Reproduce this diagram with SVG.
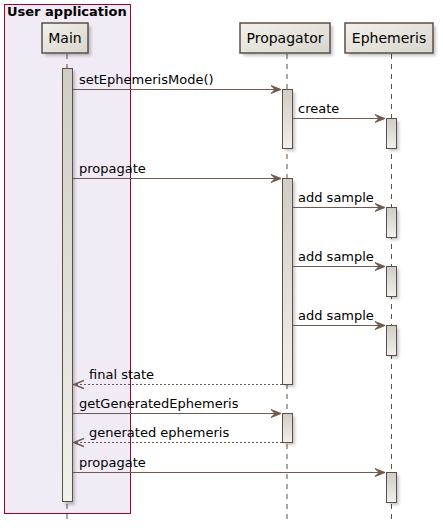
<svg xmlns="http://www.w3.org/2000/svg" width="443" height="530" viewBox="0 0 443 530">
<style>
text{font-family:"DejaVu Sans",sans-serif;font-size:13px;fill:#000}
.pt{font-size:14px}
.life{stroke:#5e4e46;stroke-width:1;stroke-dasharray:5 5;fill:none}
.part{fill:url(#pg);stroke:#5e4e46;stroke-width:1.5}
.act{fill:url(#ag);stroke:#5e4e46;stroke-width:1}
.msg{stroke:#6e5a50;stroke-width:1;fill:none}
.ret{stroke:#6e5a50;stroke-width:1;fill:none;stroke-dasharray:2 2}
.sh{fill:#000;opacity:0.22;filter:url(#blur)}
</style>
<defs>
<linearGradient id="pg" x1="0" y1="0" x2="1" y2="1"><stop offset="0" stop-color="#f3f1ec"/><stop offset="1" stop-color="#d9d5ce"/></linearGradient>
<linearGradient id="ag" x1="0" y1="0" x2="0" y2="1"><stop offset="0" stop-color="#d0ccc6"/><stop offset="1" stop-color="#f2f0eb"/></linearGradient>
<filter id="blur" x="-50%" y="-50%" width="200%" height="200%"><feGaussianBlur stdDeviation="1.5"/></filter>
<marker id="ah" viewBox="0 0 11 10" refX="10" refY="5" markerWidth="11" markerHeight="10" markerUnits="userSpaceOnUse" orient="auto"><polygon points="0,1 10,5 0,9 4,5" fill="#6e5a50" stroke="#6e5a50" stroke-width="1"/></marker>
<marker id="oh" viewBox="0 0 11 10" refX="10" refY="5" markerWidth="11" markerHeight="10" markerUnits="userSpaceOnUse" orient="auto"><polyline points="0,1 10,5 0,9" fill="none" stroke="#6e5a50" stroke-width="1.5"/></marker>
</defs>
<g id="user-application">
<rect x="4.5" y="4.5" width="126" height="509" fill="#f1ebf6" stroke="#a80036" stroke-width="1"/>
<text x="7" y="16" style="font-weight:bold;font-size:13px">User application</text>
</g>
<g id="lifelines">
<line class="life" x1="67" y1="54" x2="67" y2="522"/>
<line class="life" x1="287" y1="54" x2="287" y2="522"/>
<line class="life" x1="391.5" y1="54" x2="391.5" y2="522"/>
</g>
<g id="Main">
<rect class="sh" x="45" y="26" width="46" height="30"/>
<rect class="part" x="42" y="23" width="46" height="30"/>
<text class="pt" x="65" y="43" text-anchor="middle">Main</text>
</g>
<g id="Propagator">
<rect class="sh" x="243" y="26" width="90" height="30"/>
<rect class="part" x="240" y="23" width="90" height="30"/>
<text class="pt" x="285" y="43" text-anchor="middle">Propagator</text>
</g>
<g id="Ephemeris">
<rect class="sh" x="348" y="26" width="88" height="30"/>
<rect class="part" x="345" y="23" width="88" height="30"/>
<text class="pt" x="389" y="43" text-anchor="middle">Ephemeris</text>
</g>
<g id="activations">
<rect class="sh" x="65" y="71" width="10" height="434"/>
<rect class="act" x="62.5" y="68.5" width="10" height="433"/>
<rect class="sh" x="285" y="92" width="10" height="59"/>
<rect class="act" x="282.5" y="89.5" width="10" height="59"/>
<rect class="sh" x="389" y="121" width="10" height="30"/>
<rect class="act" x="386.5" y="118.5" width="10" height="30"/>
<rect class="sh" x="285" y="181" width="10" height="206"/>
<rect class="act" x="282.5" y="178.5" width="10" height="206"/>
<rect class="sh" x="389" y="210" width="10" height="30"/>
<rect class="act" x="386.5" y="207.5" width="10" height="30"/>
<rect class="sh" x="389" y="269" width="10" height="30"/>
<rect class="act" x="386.5" y="266.5" width="10" height="30"/>
<rect class="sh" x="389" y="328" width="10" height="30"/>
<rect class="act" x="386.5" y="325.5" width="10" height="30"/>
<rect class="sh" x="285" y="416" width="10" height="29"/>
<rect class="act" x="282.5" y="413.5" width="10" height="29"/>
<rect class="sh" x="389" y="475" width="10" height="30"/>
<rect class="act" x="386.5" y="472.5" width="10" height="30"/>
</g>
<g id="connectors">
<line class="msg" x1="73" y1="89.5" x2="281" y2="89.5" marker-end="url(#ah)"/>
<text x="79" y="84">setEphemerisMode()</text>
<line class="msg" x1="293" y1="118.5" x2="385" y2="118.5" marker-end="url(#ah)"/>
<text x="298" y="113">create</text>
<line class="msg" x1="73" y1="178.5" x2="281" y2="178.5" marker-end="url(#ah)"/>
<text x="79" y="173">propagate</text>
<line class="msg" x1="293" y1="207.5" x2="385" y2="207.5" marker-end="url(#ah)"/>
<text x="298" y="202">add sample</text>
<line class="msg" x1="293" y1="266.5" x2="385" y2="266.5" marker-end="url(#ah)"/>
<text x="298" y="261">add sample</text>
<line class="msg" x1="293" y1="325.5" x2="385" y2="325.5" marker-end="url(#ah)"/>
<text x="298" y="320">add sample</text>
<line class="ret" x1="282" y1="384.5" x2="74" y2="384.5" marker-end="url(#oh)"/>
<text x="89" y="379">final state</text>
<line class="msg" x1="73" y1="413.5" x2="281" y2="413.5" marker-end="url(#ah)"/>
<text x="79" y="408">getGeneratedEphemeris</text>
<line class="ret" x1="282" y1="442.5" x2="74" y2="442.5" marker-end="url(#oh)"/>
<text x="89" y="437">generated ephemeris</text>
<line class="msg" x1="73" y1="472.5" x2="385" y2="472.5" marker-end="url(#ah)"/>
<text x="79" y="467">propagate</text>
</g>
</svg>
